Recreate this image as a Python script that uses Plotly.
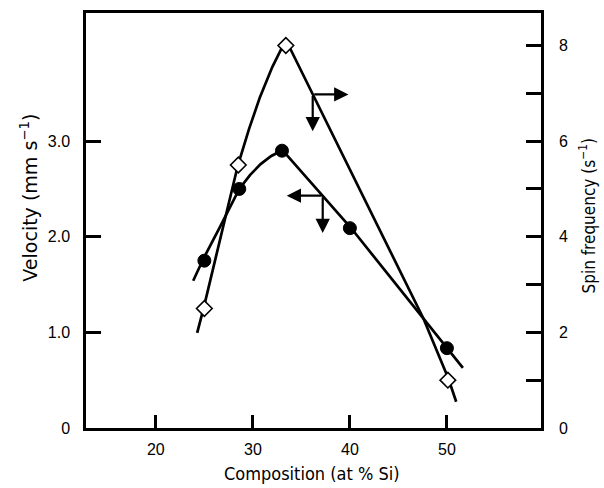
import plotly.graph_objects as go

# ---- data ----
comp_vel = [25, 28.6, 33, 40, 50]
velocity = [1.75, 2.5, 2.9, 2.09, 0.835]

comp_spin = [25, 28.5, 33.4, 50.1]
spin = [2.5, 5.5, 8.0, 1.0]

# hand-drawn fit curves
vel_curve_x = [23.85, 24.9, 26.6, 28.6, 29.7, 30.8, 31.9, 33.05, 40.1, 47.6, 50.1, 51.65]
vel_curve_y = [1.54, 1.77, 2.10, 2.50, 2.645, 2.76, 2.845, 2.905, 2.094, 1.15, 0.835, 0.628]

spin_curve_x = [24.26, 24.95, 28.45, 29.6, 30.73, 32.0, 33.4, 36.17, 47.58, 50.16, 50.96]
spin_curve_y = [1.99, 2.53, 5.49, 6.25, 6.92, 7.55, 8.12, 6.98, 2.29, 1.03, 0.55]

x_ticks = [20, 30, 40, 50]
vel_ticks = [0, 1, 2, 3]
vel_tick_text = ["0", "1.0", "2.0", "3.0"]
spin_ticks = [0, 1, 2, 3, 4, 5, 6, 7, 8]
spin_tick_text = ["0", "", "2", "", "4", "", "6", "", "8"]

# arrows: (head_x, head_y, tail_x, tail_y) in composition / velocity units
arrows = [
    (39.85, 3.488, 36.17, 3.488),
    (36.17, 3.104, 36.17, 3.488),
    (33.49, 2.43, 37.2, 2.43),
    (37.2, 2.04, 37.2, 2.43),
]

X_RANGE = [12.8, 59.7]
V_TOP = 4.34

LINE = dict(color="black", width=2.7)
TICKFONT = dict(family="Liberation Sans, Arial, sans-serif", size=16, color="black")
NARROW = "Liberation Sans Narrow, DejaVu Sans Condensed, Arial Narrow, sans-serif"
XTITLEFONT = dict(family=NARROW, size=18, color="black")
LTITLEFONT = dict(family="DejaVu Sans, sans-serif", size=19, color="black")
RTITLEFONT = dict(family=NARROW, size=17, color="black")

fig = go.Figure()

fig.add_trace(go.Scatter(x=vel_curve_x, y=vel_curve_y, mode="lines", line=LINE,
                         hoverinfo="skip", yaxis="y"))
fig.add_trace(go.Scatter(x=spin_curve_x, y=spin_curve_y, mode="lines", line=LINE,
                         hoverinfo="skip", yaxis="y2"))
fig.add_trace(go.Scatter(x=comp_vel, y=velocity, mode="markers", yaxis="y",
                         marker=dict(symbol="circle", size=13, color="black",
                                     line=dict(color="black", width=1))))
fig.add_trace(go.Scatter(x=comp_spin, y=spin, mode="markers", yaxis="y2",
                         marker=dict(symbol="diamond", size=12, color="white",
                                     line=dict(color="black", width=1.6))))

annotations = []
for hx, hy, tx, ty in arrows:
    annotations.append(dict(x=hx, y=hy, ax=tx, ay=ty, xref="x", yref="y",
                            axref="x", ayref="y", text="", showarrow=True,
                            arrowhead=2, arrowsize=1.3, arrowwidth=2.2,
                            arrowcolor="black", standoff=0, startstandoff=0))

titles = [
    dict(text="Composition (at % Si)", x=312, y=474, font=XTITLEFONT, textangle=0),
    dict(text="Velocity (mm s<sup>\u22121</sup>)", x=29, y=196, font=LTITLEFONT, textangle=-90),
    dict(text="Spin frequency (s<sup>\u22121</sup>)", x=587, y=215, font=RTITLEFONT, textangle=-90),
]

# convert pixel positions of the titles to paper coordinates
W, H = 604, 488
ML, MR, MT, MB = 86, 63, 10, 60
pw, ph = W - ML - MR, H - MT - MB
for t in titles:
    annotations.append(dict(text=t["text"], font=t["font"], textangle=t["textangle"],
                            showarrow=False, xref="paper", yref="paper",
                            x=(t["x"] - ML) / pw, y=(H - MB - t["y"]) / ph,
                            xanchor="center", yanchor="middle"))

fig.update_layout(
    width=W, height=H,
    margin=dict(l=ML, r=MR, t=MT, b=MB),
    paper_bgcolor="white", plot_bgcolor="white",
    showlegend=False,
    xaxis=dict(range=X_RANGE, tickvals=x_ticks, ticks="inside", ticklen=13, tickwidth=2.5,
               tickcolor="black", showline=True, linewidth=2.5, linecolor="black",
               mirror=True, showgrid=False, zeroline=False, tickfont=TICKFONT,
               ticklabelstandoff=5),
    yaxis=dict(range=[0, V_TOP], tickvals=vel_ticks, ticktext=vel_tick_text, ticks="inside",
               ticklen=15, tickwidth=2.5, tickcolor="black", showline=True, linewidth=2.5,
               linecolor="black", showgrid=False, zeroline=False, tickfont=TICKFONT,
               ticklabelstandoff=10),
    yaxis2=dict(range=[0, 2 * V_TOP], overlaying="y", side="right", tickvals=spin_ticks,
                ticktext=spin_tick_text, ticks="inside", ticklen=15, tickwidth=2.5,
                tickcolor="black", showline=True, linewidth=2.5, linecolor="black",
                showgrid=False, zeroline=False, tickfont=TICKFONT, ticklabelstandoff=12),
    annotations=annotations,
)

fig.write_html("out.html")
